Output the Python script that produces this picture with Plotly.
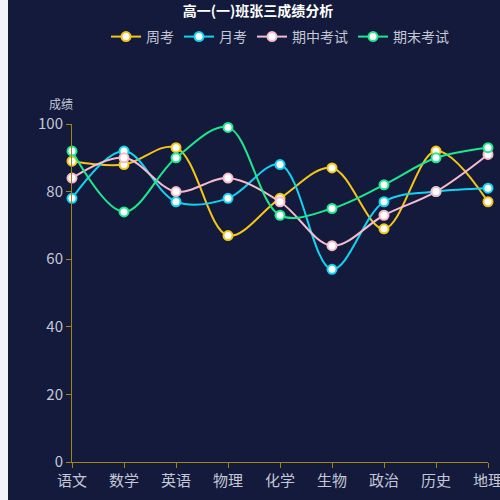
import plotly.graph_objects as go

subjects = ["语文", "数学", "英语", "物理", "化学", "生物", "政治", "历史", "地理"]
weekly = [89, 88, 93, 67, 78, 87, 69, 92, 77]
monthly = [78, 92, 77, 78, 88, 57, 77, 80, 81]
midterm = [84, 90, 80, 84, 77, 64, 73, 80, 91]
final = [92, 74, 90, 99, 73, 75, 82, 90, 93]

series_names = ["周考", "月考", "期中考试", "期末考试"]
series_values = [weekly, monthly, midterm, final]
series_colors = ["#f5c518", "#12d4f2", "#f6bccb", "#1ee88c"]

BG = "#131a3b"
AXIS = "#a08414"
TXT = "#c4c8d8"
FONT = "Noto Sans CJK SC"

fig = go.Figure()
for name, vals, col in zip(series_names, series_values, series_colors):
    fig.add_trace(go.Scatter(
        x=subjects, y=vals, name=name, mode="lines+markers",
        line=dict(color=col, width=2, shape="spline", smoothing=1.0),
        marker=dict(size=9, color="white", line=dict(color=col, width=2)),
        cliponaxis=False,
    ))

L, R, T, B = 64, 20, 124, 38
W, H = 500, 500
pw = W - L - R
ph = H - T - B

fig.update_layout(
    template="none",
    width=W, height=H,
    margin=dict(l=L, r=R, t=T, b=B, autoexpand=False),
    paper_bgcolor=BG, plot_bgcolor=BG,
    font=dict(family=FONT, color=TXT, size=14),
    title=dict(text="<b>高一(一)班张三成绩分析</b>", x=0.5, xanchor="center",
               y=1 - 11 / H, yanchor="middle",
               font=dict(size=14, color="white", family=FONT)),
    legend=dict(orientation="h", x=0.5, xanchor="center",
                y=1 + (T - 37) / ph, yanchor="middle",
                font=dict(size=14, color=TXT, family=FONT),
                itemwidth=30, bgcolor="rgba(0,0,0,0)"),
    showlegend=True,
    xaxis=dict(type="category", range=[0, len(subjects) - 1],
               automargin=False,
               showline=True, linecolor=AXIS, linewidth=1,
               ticks="outside", tickcolor=AXIS, ticklen=5, tickwidth=1,
               showgrid=False, zeroline=False,
               tickfont=dict(size=15, color=TXT, family=FONT)),
    yaxis=dict(range=[0, 100], tickvals=[0, 20, 40, 60, 80, 100],
               automargin=False,
               showline=True, linecolor=AXIS, linewidth=1,
               ticks="outside", tickcolor=AXIS, ticklen=5, tickwidth=1,
               showgrid=False, zeroline=False,
               tickfont=dict(size=15, color=TXT, family=FONT)),
    annotations=[dict(text="成绩", xref="paper", yref="paper",
                      x=(53 - L) / pw, y=(H - B - 104) / ph,
                      xanchor="center", yanchor="middle", showarrow=False,
                      font=dict(size=12, color=TXT, family=FONT))],
)

fig.write_html(
    "out.html",
    post_script="document.body.style.margin='0 0 0 8px';"
                "document.body.style.overflow='hidden';"
                "document.body.style.background='#f2f4f8';",
)
